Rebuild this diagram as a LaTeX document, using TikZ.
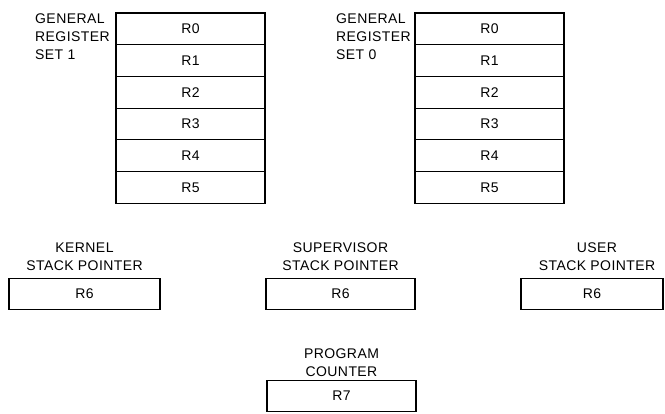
\documentclass[tikz,border=0pt]{standalone}
\usepackage{fontspec}
\setmainfont{Liberation Sans}[LetterSpace=3]
\usetikzlibrary{positioning}

\begin{document}
\begin{tikzpicture}[x=1pt, y=-1pt,
      every node/.style={font=\fontsize{14}{18}\selectfont, inner sep=0pt},
      reg/.style={draw, line width=1.2pt, outer sep=0pt,
                  minimum width=149pt, minimum height=31.7pt},
      tag/.style={align=left, anchor=south west},
      ctag/.style={align=center}
  ]
    \useasboundingbox (0,0) rectangle (665,413);
    % general register set 1
    \node[reg, anchor=north west] (a0) at (116,13) {R0};
    \node[reg, below=0pt of a0] (a1) {R1};
    \node[reg, below=0pt of a1] (a2) {R2};
    \node[reg, below=0pt of a2] (a3) {R3};
    \node[reg, below=0pt of a3] (a4) {R4};
    \node[reg, below=0pt of a4] (a5) {R5};
    \node[tag] (set1) at (35,60) {GENERAL\\REGISTER\\SET 1};
    % general register set 0
    \node[reg, anchor=north west] (b0) at (415,13) {R0};
    \node[reg, below=0pt of b0] (b1) {R1};
    \node[reg, below=0pt of b1] (b2) {R2};
    \node[reg, below=0pt of b2] (b3) {R3};
    \node[reg, below=0pt of b3] (b4) {R4};
    \node[reg, below=0pt of b4] (b5) {R5};
    \node[tag] (set0) at (336,60) {GENERAL\\REGISTER\\SET 0};
    % stack pointers
    \node[reg, minimum width=151pt] (ksp) at (84.5,294) {R6};
    \node[reg] (ssp) at (340.5,294) {R6};
    \node[reg, minimum width=142pt] (usp) at (592,294) {R6};
    \node[ctag, above=7pt of ksp] (kl) {KERNEL\\STACK POINTER};
    \node[ctag, above=7pt of ssp] (sl) {SUPERVISOR\\STACK POINTER};
    \node[ctag, above=7pt of usp, xshift=5pt] (ul) {USER\\STACK POINTER};
    % program counter
    \node[reg] (pc) at (341.5,396) {R7};
    \node[ctag, above=3.5pt of pc] (pcl) {PROGRAM\\COUNTER};
  \end{tikzpicture}
\end{document}
